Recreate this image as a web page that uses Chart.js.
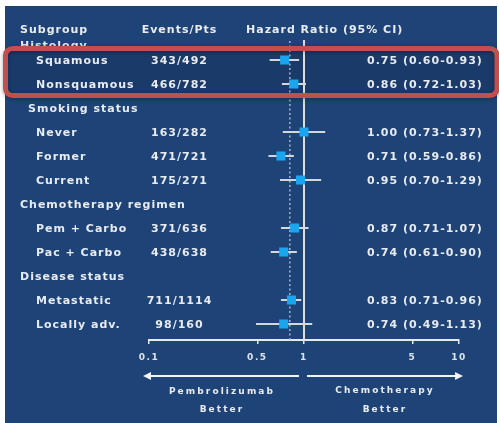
<!DOCTYPE html>
<html>
<head>
<meta charset="utf-8">
<script src="https://cdn.jsdelivr.net/npm/chart.js@4.4.1/dist/chart.umd.min.js"></script>
<style>
  html, body { margin: 0; padding: 0; background: #ffffff; }
  #wrap { width: 499px; height: 423px; position: relative; }
</style>
</head>
<body>
<div id="wrap"><canvas id="forest" width="499" height="423"></canvas></div>
<script>
// Subgroup rows (row index counts down the table, group headers included)
const subgroups   = ['Squamous', 'Nonsquamous', 'Never', 'Former', 'Current', 'Pem + Carbo', 'Pac + Carbo', 'Metastatic', 'Locally adv.'];
const subgroupRow = [1, 2, 4, 5, 6, 8, 9, 11, 12];
const eventsPts   = ['343/492', '466/782', '163/282', '471/721', '175/271', '371/636', '438/638', '711/1114', '98/160'];
const hazardRatio = [0.75, 0.86, 1.00, 0.71, 0.95, 0.87, 0.74, 0.83, 0.74];
const ciLower     = [0.60, 0.72, 0.73, 0.59, 0.70, 0.71, 0.61, 0.71, 0.49];
const ciUpper     = [0.93, 1.03, 1.37, 0.86, 1.29, 1.07, 0.90, 0.96, 1.13];

const groupNames  = ['Histology', 'Smoking status', 'Chemotherapy regimen', 'Disease status'];
const groupRow    = [0.35, 3, 7, 10];

const xTickValues = [0.1, 0.5, 1, 5, 10];
const overallHR   = 0.81;

const headerRow = -0.3;

// layout and style
const FONT = '"DejaVu Sans", Verdana, sans-serif';
const TEXT = '#e8ebf1';
const PANEL = '#1e4377';
const groupX = [20, 28, 20, 20];
const subgroupX = 36, eventsX = 179.5, hrTextX = 367;

const fmt2 = v => v.toFixed(2);

function drawText(ctx, str, x, y, align, size, spacing, color) {
  ctx.save();
  ctx.font = 'bold ' + size + 'px ' + FONT;
  ctx.letterSpacing = spacing + 'px';
  ctx.fillStyle = color || TEXT;
  ctx.textAlign = align;
  ctx.textBaseline = 'middle';
  ctx.fillText(str, x, y);
  ctx.restore();
}

const forestPlugin = {
  id: 'forestPlugin',
  beforeDraw(chart) {
    const ctx = chart.ctx;
    ctx.save();
    ctx.fillStyle = '#ffffff';
    ctx.fillRect(0, 0, chart.width, chart.height);
    ctx.fillStyle = PANEL;
    ctx.fillRect(5, 6, 492, 417);
    ctx.restore();
    ctx.letterSpacing = '1.5px';
  },
  beforeDatasetsDraw(chart) {
    const ctx = chart.ctx;
    const xs = chart.scales.x, area = chart.chartArea;
    // darker band behind the histology rows
    ctx.save();
    ctx.beginPath();
    ctx.roundRect(5.5, 48.5, 491.5, 47, 7);
    ctx.fillStyle = 'rgba(5, 15, 40, 0.16)';
    ctx.fill();
    ctx.restore();

    // reference line at HR = 1
    const x1 = xs.getPixelForValue(1);
    ctx.save();
    ctx.strokeStyle = '#dadde2';
    ctx.lineWidth = 2;
    ctx.beginPath();
    ctx.moveTo(x1, area.top);
    ctx.lineTo(x1, area.bottom);
    ctx.stroke();

    // overall hazard ratio, dotted
    const xo = xs.getPixelForValue(overallHR);
    ctx.strokeStyle = '#aab4c4';
    ctx.lineWidth = 1.5;
    ctx.setLineDash([2, 2.5]);
    ctx.beginPath();
    ctx.moveTo(xo, area.top + 1);
    ctx.lineTo(xo, area.bottom);
    ctx.stroke();
    ctx.restore();
  },
  afterDraw(chart) {
    const ctx = chart.ctx;
    const xs = chart.scales.x, ys = chart.scales.y;
    const rowY = r => ys.getPixelForValue(r) + 1.5;

    // column headers
    const hy = rowY(headerRow);
    drawText(ctx, 'Subgroup', 20, hy, 'left', 11, 1);
    drawText(ctx, 'Events/Pts', eventsX, hy, 'center', 11, 1);
    drawText(ctx, 'Hazard Ratio (95% CI)', 246, hy, 'left', 11, 1);

    groupNames.forEach((g, i) => drawText(ctx, g, groupX[i], rowY(groupRow[i]), 'left', 11, 1));

    subgroups.forEach((s, i) => {
      const y = rowY(subgroupRow[i]);
      drawText(ctx, s, subgroupX, y, 'left', 11, 1);
      drawText(ctx, eventsPts[i], eventsX, y, 'center', 11, 1);
      drawText(ctx, fmt2(hazardRatio[i]) + ' (' + fmt2(ciLower[i]) + '-' + fmt2(ciUpper[i]) + ')', hrTextX, y, 'left', 11, 1);
    });

    // direction arrows under the axis
    const x1 = xs.getPixelForValue(1);
    const xl = xs.getPixelForValue(xTickValues[0]) - 6;
    const xr = xs.getPixelForValue(xTickValues[xTickValues.length - 1]) + 4;
    const ay = 376;
    ctx.save();
    ctx.strokeStyle = '#f2f4f7';
    ctx.fillStyle = '#f2f4f7';
    ctx.lineWidth = 2;
    ctx.beginPath();
    ctx.moveTo(x1 - 5, ay); ctx.lineTo(xl + 6, ay);
    ctx.moveTo(x1 + 3, ay); ctx.lineTo(xr - 6, ay);
    ctx.stroke();
    ctx.beginPath();
    ctx.moveTo(xl, ay); ctx.lineTo(xl + 8, ay - 4); ctx.lineTo(xl + 8, ay + 4); ctx.closePath();
    ctx.moveTo(xr, ay); ctx.lineTo(xr - 8, ay - 4); ctx.lineTo(xr - 8, ay + 4); ctx.closePath();
    ctx.fill();
    ctx.restore();

    const lc = (xl + x1 - 5) / 2 + 1, rc = (x1 + 3 + xr) / 2;
    drawText(ctx, 'Pembrolizumab', lc, 392, 'center', 9, 2.1);
    drawText(ctx, 'Better', lc, 410, 'center', 9, 2.1);
    drawText(ctx, 'Chemotherapy', rc, 391, 'center', 9, 2.1);
    drawText(ctx, 'Better', rc, 410, 'center', 9, 2.1);

    // highlight frame around histology rows
    ctx.save();
    ctx.shadowColor = 'rgba(0, 0, 0, 0.35)';
    ctx.shadowBlur = 4;
    ctx.shadowOffsetY = 1;
    ctx.strokeStyle = '#c0504d';
    ctx.lineWidth = 5;
    ctx.beginPath();
    ctx.roundRect(5.5, 48.5, 491.5, 47, 7);
    ctx.stroke();
    ctx.restore();
  }
};

const ciDatasets = subgroups.map((s, i) => ({
  type: 'scatter',
  label: s + ' CI',
  data: [{ x: ciLower[i], y: subgroupRow[i] }, { x: ciUpper[i], y: subgroupRow[i] }],
  showLine: true,
  borderColor: '#d4d8de',
  borderWidth: 2,
  pointRadius: 0,
  order: 2
}));

const hrDataset = {
  type: 'scatter',
  label: 'Hazard ratio',
  data: hazardRatio.map((v, i) => ({ x: v, y: subgroupRow[i] })),
  pointStyle: 'rect',
  pointRadius: 6.4,
  backgroundColor: '#1aa6ee',
  borderWidth: 0,
  order: 0
};

new Chart(document.getElementById('forest'), {
  type: 'scatter',
  data: { datasets: [hrDataset, ...ciDatasets] },
  options: {
    responsive: false,
    animation: false,
    events: [],
    layout: { padding: { left: 149, right: 40, top: 40, bottom: 53 } },
    plugins: { legend: { display: false }, tooltip: { enabled: false } },
    scales: {
      x: {
        type: 'logarithmic',
        min: 0.1,
        max: 10,
        position: 'bottom',
        afterBuildTicks: s => { s.ticks = xTickValues.map(v => ({ value: v })); },
        afterFit: s => { s.height = 30; },
        grid: { drawOnChartArea: false, drawTicks: true, tickLength: 4, color: '#e6e9ee', lineWidth: 1.5 },
        border: { display: true, color: '#e6e9ee', width: 2 },
        ticks: {
          autoSkip: false,
          maxRotation: 0,
          padding: 8,
          color: '#dfe3ea',
          font: { family: FONT, size: 9, weight: 'bold' },
          callback: v => String(v)
        }
      },
      y: {
        type: 'linear',
        display: false,
        reverse: true,
        min: 1 / 6,
        max: 12 + 2 / 3
      }
    }
  },
  plugins: [forestPlugin]
});
</script>
</body>
</html>
